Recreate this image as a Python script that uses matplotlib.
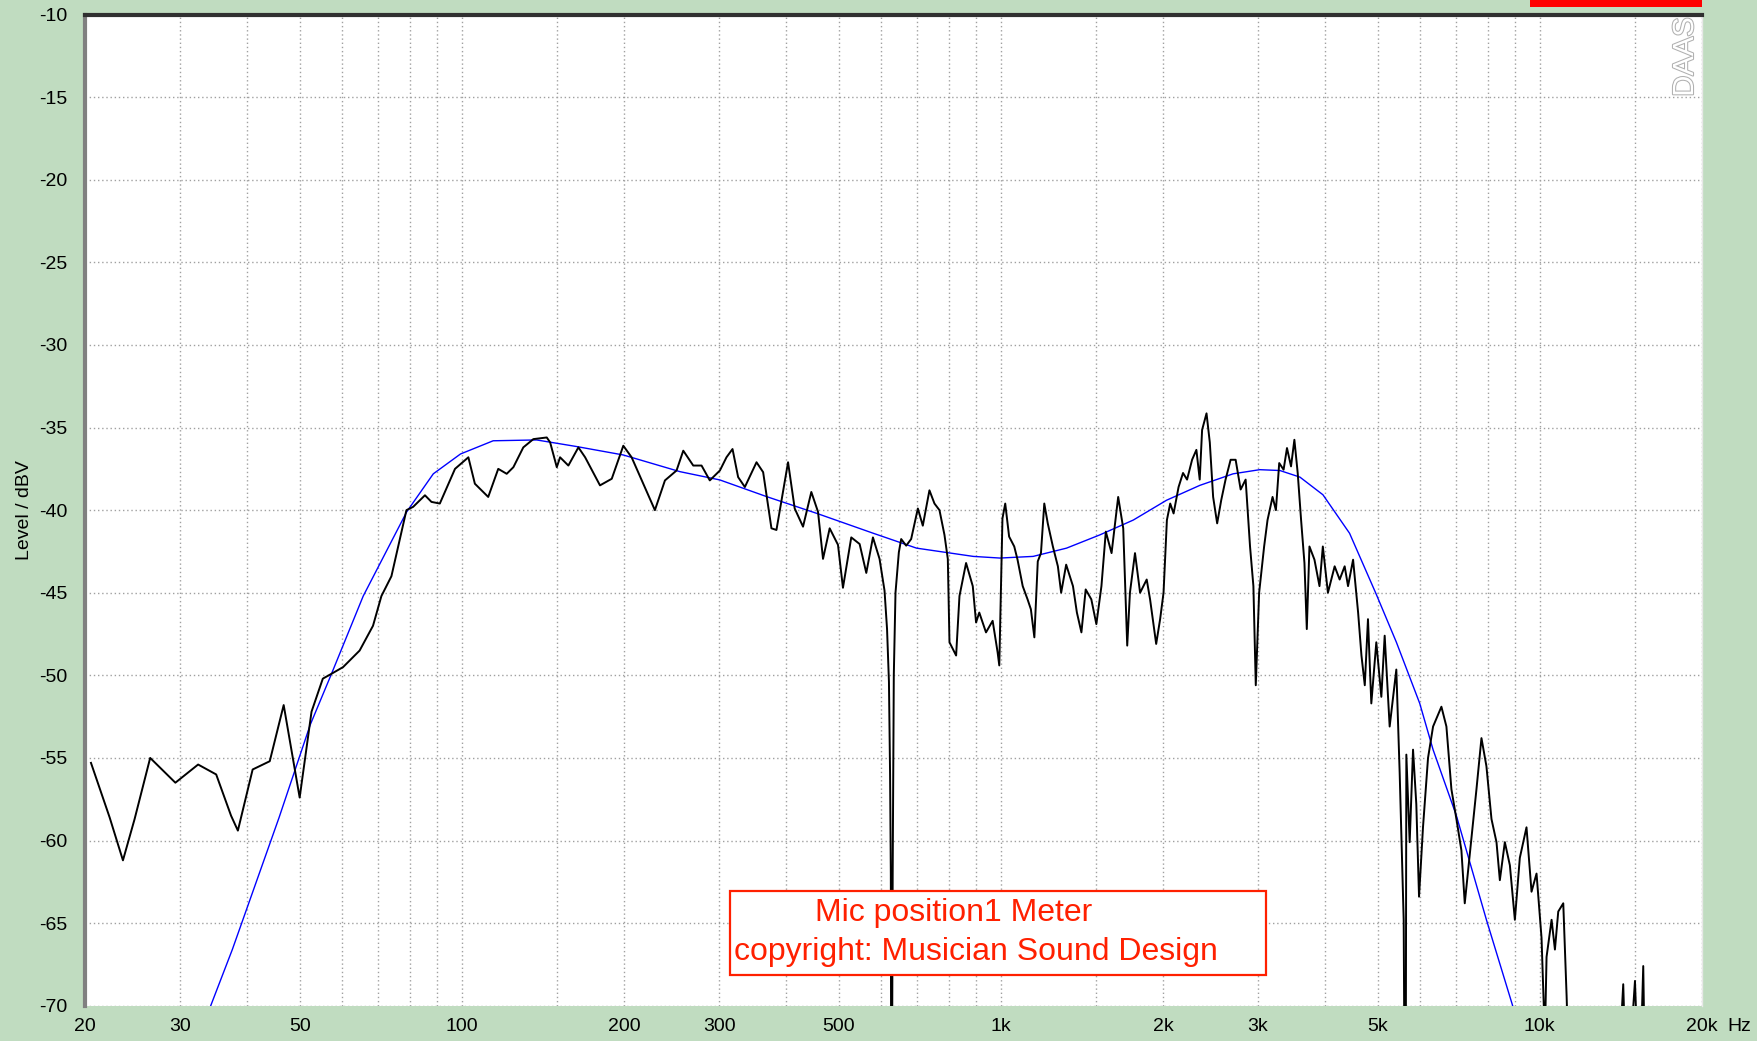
import matplotlib
matplotlib.use("Agg")
import matplotlib.pyplot as plt
import matplotlib.patheffects as pe
from matplotlib.patches import Rectangle

freq_meas = [20.5, 22.2, 23.5, 24.7, 26.4, 29.4, 32.4, 35.0, 37.3, 38.4, 40.9, 44.0, 46.7, 50.0,
             52.6, 55.2, 56.9, 60.2, 64.6, 68.4, 70.9, 74.0, 76.7, 78.9, 81.2, 85.4, 87.8, 91.0,
             97.1, 102.8, 105.7, 111.9, 116.8, 121.1, 124.6, 130.0, 135.7, 143.7, 145.8, 150.0,
             152.1, 157.6, 164.5, 169.3, 180.4, 189.7, 199.3, 206.5, 228.1, 238.1, 250.2, 257.5,
             268.7, 278.4, 288.4, 301.1, 309.7, 317.8, 325.5, 335.0, 352.1, 362.2, 375.3, 383.4,
             402.9, 414.5, 429.5, 445.0, 457.9, 467.8, 481.3, 498.7, 509.4, 527.8, 547.0, 562.8,
             579.0, 595.6, 608.4, 615, 620, 623, 625, 626, 628, 630, 633, 637.6, 646.8, 653.3,
             667.4, 681.7, 701.5, 716.5, 737.1, 753.1, 769.4, 786.0, 797.3, 803.0, 826.1, 838,
             862, 887, 899.6, 912, 938.6, 965.6, 986.3, 993.4, 1007, 1019, 1036, 1059, 1074, 1098,
             1121, 1137, 1154, 1171, 1187, 1204, 1222, 1249, 1276, 1294, 1322, 1361, 1384, 1411,
             1437, 1472, 1504, 1537, 1566, 1605, 1651, 1687, 1716, 1736, 1774, 1813, 1865, 1892,
             1942, 1975, 2004, 2033, 2062, 2092, 2137, 2178, 2216, 2264, 2306, 2339, 2363, 2408,
             2442, 2477, 2520, 2564, 2612, 2669, 2727, 2786, 2846, 2900, 2942, 2972, 3015, 3080,
             3125, 3193, 3239, 3285, 3347, 3396, 3455, 3505, 3555, 3607, 3659, 3696, 3738, 3819,
             3902, 3958, 4045, 4163, 4253, 4345, 4408, 4504, 4602, 4668, 4735, 4800, 4869, 4974,
             5082, 5155, 5266, 5418, 5496, 5591, 5615, 5640, 5655, 5736, 5819, 5901, 5970, 6072,
             6204, 6339, 6569, 6711, 6856, 7004, 7155, 7258, 7417, 7630, 7795, 7962, 8136, 8312,
             8432, 8614, 8801, 8991, 9183, 9449, 9654, 9863, 10076, 10221, 10294, 10518, 10669,
             10822, 11056, 11215, 11376, 13900, 14285, 14500, 15020, 15300, 15560, 15700]
level_meas = [-55.3, -58.6, -61.2, -58.7, -55.0, -56.5, -55.4, -56.0, -58.5, -59.4, -55.7, -55.2,
              -51.8, -57.4, -52.2, -50.2, -49.96, -49.5, -48.5, -47.0, -45.2, -44.0, -41.75, -40.0,
              -39.8, -39.1, -39.5, -39.6, -37.5, -36.8, -38.4, -39.2, -37.5, -37.8, -37.4, -36.2,
              -35.7, -35.6, -35.9, -37.4, -36.8, -37.3, -36.2, -36.8, -38.5, -38.1, -36.1, -36.8,
              -40.0, -38.2, -37.6, -36.4, -37.3, -37.3, -38.2, -37.6, -36.8, -36.3, -38.0, -38.6,
              -37.1, -37.7, -41.1, -41.2, -37.1, -39.9, -41.0, -38.9, -40.1, -42.95, -41.1, -42.1,
              -44.7, -41.65, -42.05, -43.8, -41.65, -42.95, -44.87, -47.2, -50.4, -56.0, -62, -76,
              -76, -62, -50, -45.0, -42.55, -41.75, -42.15, -41.75, -39.9, -40.94, -38.8, -39.6,
              -40.0, -41.5, -42.95, -48.0, -48.8, -45.2, -43.2, -44.6, -46.8, -46.2, -47.4, -46.7,
              -48.6, -49.4, -40.5, -39.6, -41.6, -42.2, -43.0, -44.6, -45.4, -46.0, -47.7, -43.1,
              -42.6, -39.6, -40.8, -42.2, -43.4, -45.0, -43.3, -44.6, -46.2, -47.4, -44.8, -45.4,
              -46.9, -44.6, -41.3, -42.6, -39.2, -41.1, -48.2, -45.0, -42.6, -45.0, -44.2, -45.4,
              -48.1, -46.6, -45.0, -40.6, -39.6, -40.2, -38.6, -37.75, -38.15, -36.95, -36.35,
              -38.15, -35.14, -34.14, -35.9, -39.2, -40.8, -39.4, -38.15, -36.95, -36.95, -38.75,
              -38.15, -42.2, -44.6, -50.6, -45.0, -42.2, -40.6, -39.2, -40.0, -37.15, -37.55,
              -36.24, -37.35, -35.74, -37.75, -40.6, -43.2, -47.2, -42.2, -43.0, -44.6, -42.2,
              -45.0, -43.4, -44.2, -43.4, -44.6, -43.0, -46.2, -48.8, -50.6, -46.6, -51.7, -48.0,
              -51.3, -47.6, -53.1, -49.65, -55.9, -64.8, -76, -76, -54.8, -60.1, -54.5, -57.8,
              -63.4, -59.2, -55.0, -53.1, -51.9, -53.1, -56.9, -58.7, -60.6, -63.8, -60.8, -56.9,
              -53.8, -55.5, -58.7, -60.1, -62.4, -60.1, -61.5, -64.8, -61.05, -59.2, -63.1, -62.0,
              -65.9, -72, -67.05, -64.8, -66.6, -64.3, -63.8, -69.4, -76, -76, -68.7, -76, -68.5,
              -76, -67.6, -76]

# smoothed target curve (blue)
freq_fit = [34.1, 37.5, 45.8, 52.3, 57.3, 65.6, 79.0, 88.5, 99.4, 114.3, 137.6, 163.3, 199.3, 253.9,
            301, 367.6, 455, 579.9, 697.6, 889, 996, 1148, 1324, 1526, 1761, 2030, 2340, 2698,
            3023, 3294, 3589, 3960, 4437, 4974, 5420, 5988, 6339, 7004, 7962, 8925]
level_fit = [-70.1, -66.6, -58.6, -53.0, -49.9, -45.2, -40.1, -37.8, -36.6, -35.8, -35.75, -36.15,
             -36.66, -37.67, -38.17, -39.18, -40.19, -41.4, -42.3, -42.8, -42.9, -42.8, -42.3, -41.5,
             -40.6, -39.4, -38.5, -37.8, -37.55, -37.6, -38.0, -39.07, -41.4, -45.1, -48.0, -51.7,
             -54.5, -58.5, -64.8, -70.1]

tick_freqs = [20, 30, 50, 100, 200, 300, 500, 1000, 2000, 3000, 5000, 10000, 20000]
tick_labels = ['20', '30', '50', '100', '200', '300', '500', '1k', '2k', '3k', '5k', '10k', '20k']
grid_freqs = [20, 30, 40, 50, 60, 70, 80, 90, 100, 150, 200, 300, 400, 500, 600, 700, 800, 900,
              1000, 1500, 2000, 3000, 4000, 5000, 6000, 7000, 8000, 9000, 10000, 15000, 20000]
level_ticks = list(range(-70, -9, 5))

plt.rcParams['font.family'] = ['Liberation Sans', 'DejaVu Sans']
bg = '#c0dcc0'

fig = plt.figure(figsize=(17.58, 10.41), dpi=100, facecolor=bg)
ax = fig.add_axes([85.2 / 1758, 1 - 1005.7 / 1041, (1702 - 85.2) / 1758, (1005.7 - 14.6) / 1041])
ax.set_facecolor('white')
ax.set_xscale('log')
ax.set_xlim(20, 20000)
ax.set_ylim(-70, -10)

ax.set_xticks(tick_freqs)
ax.set_xticklabels(tick_labels)
ax.set_xticks(grid_freqs, minor=True)
ax.set_yticks(level_ticks)
ax.set_yticklabels([str(v) for v in level_ticks])
ax.tick_params(which='both', length=0, labelsize=14, colors='black')
ax.tick_params(axis='x', pad=9)
ax.tick_params(axis='y', pad=13)
ax.xaxis.set_tick_params(which='minor', labelbottom=False)

ax.grid(False)
for f in grid_freqs:
    ax.axvline(f, color='#a0a0a0', lw=1.0, ls=(0, (1, 2)), zorder=1)
for v in level_ticks:
    ax.axhline(v, color='#a0a0a0', lw=1.0, ls=(0, (1, 2)), zorder=1)

ax.plot(freq_fit, level_fit, color='#0000ff', lw=1.0, zorder=3)
ax.plot(freq_meas, level_meas, color='black', lw=1.4, zorder=4)

ax.spines['left'].set_color('#808080')
ax.spines['left'].set_linewidth(3)
ax.spines['top'].set_color('#303030')
ax.spines['top'].set_linewidth(3)
ax.spines['right'].set_color('#e8e8e8')
ax.spines['right'].set_linewidth(1)
ax.spines['bottom'].set_visible(False)

ax.set_ylabel('Level / dBV', fontsize=14, labelpad=4)

ax.annotate('Hz', xy=(20000, -70), xytext=(18, -9), textcoords='offset points',
            ha='left', va='top', fontsize=14, annotation_clip=False)

# annotation box
ax.add_patch(Rectangle((0.3988, 0.031), 0.3315, 0.0847, transform=ax.transAxes,
                       facecolor='white', edgecolor='#ff2000', lw=1.6, zorder=6))
ax.text(0.4515, 0.094, 'Mic position1 Meter', transform=ax.transAxes, color='#ff2000',
        fontsize=23, va='center', ha='left', zorder=7)
ax.text(0.4015, 0.054, 'copyright: Musician Sound Design', transform=ax.transAxes,
        color='#ff2000', fontsize=23, va='center', ha='left', zorder=7)

# watermark
ax.text(0.9895, 0.997, 'DAAS', transform=ax.transAxes, rotation=90, fontsize=21,
        color='white', ha='center', va='top', zorder=5,
        path_effects=[pe.withStroke(linewidth=1.5, foreground='#b0b0b0')])

# overload indicator, cut off at the top edge
fig.patches.append(Rectangle((1530 / 1758, 1 - 7 / 1041), 172 / 1758, 7 / 1041,
                             transform=fig.transFigure, facecolor='#ff0000',
                             edgecolor='none'))

plt.savefig('out.png', dpi=100, facecolor=bg)
